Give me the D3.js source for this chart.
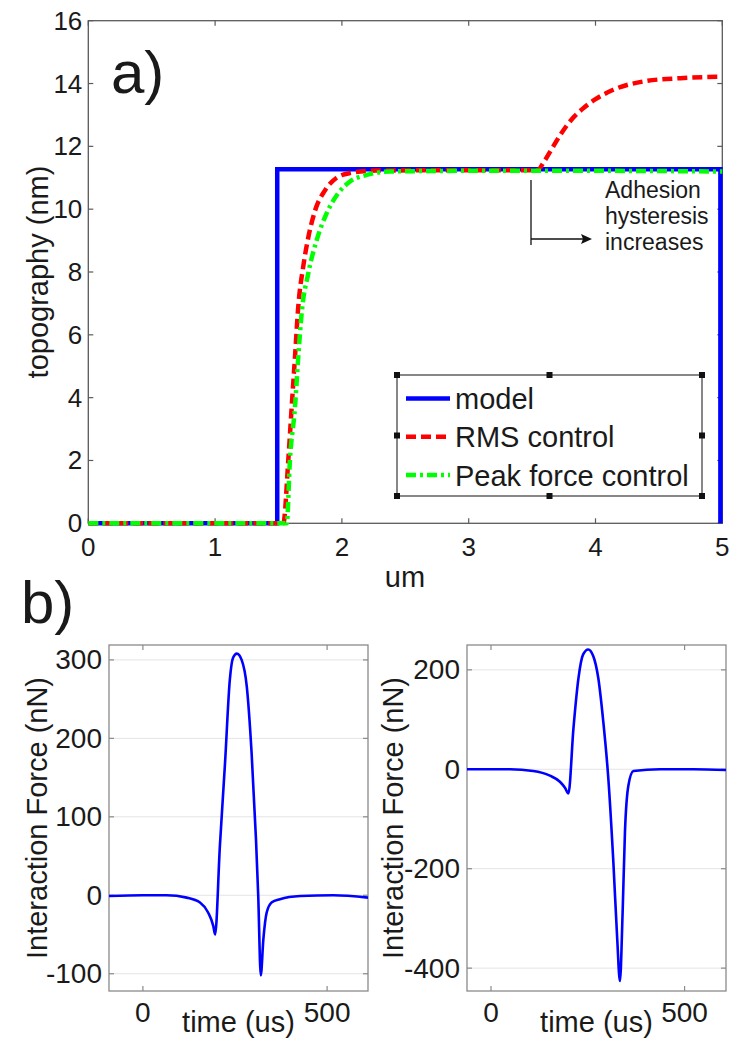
<!DOCTYPE html>
<html>
<head>
<meta charset="utf-8">
<script src="https://cdn.jsdelivr.net/npm/d3@7"></script>
<style>
  body { margin: 0; background: #fff; }
  svg { display: block; }
  text { font-family: "Liberation Sans", Arial, sans-serif; fill: #1a1a1a; }
</style>
</head>
<body>
<svg width="733" height="1040"></svg>
<script>
// ---- data ----
// a) topography profile
const topXTicks = [0, 1, 2, 3, 4, 5];
const topYTicks = [0, 2, 4, 6, 8, 10, 12, 14, 16];

const modelX = [0, 1.49, 1.49, 4.985, 4.985];
const modelY = [0, 0, 11.27, 11.27, 0];

const rmsX = [0, 1.5, 1.538, 1.577, 1.604, 1.63, 1.656, 1.696, 1.735, 1.788, 1.867, 1.959, 2.064, 2.27, 3.0, 3.54,
              3.6, 3.66, 3.72, 3.8, 3.9, 4.0, 4.14, 4.4, 4.67, 5.0];
const rmsY = [0, 0, 0, 2.0, 3.7, 5.3, 6.9, 8.2, 9.1, 9.95, 10.6, 11.0, 11.15, 11.23, 11.24, 11.24,
              11.55, 11.95, 12.35, 12.8, 13.2, 13.5, 13.8, 14.08, 14.17, 14.22];

const peakX = [0, 1.5, 1.565, 1.59, 1.63, 1.656, 1.683, 1.735, 1.80, 1.88, 1.97, 2.064, 2.196, 2.38, 3.0, 4.0, 5.0];
const peakY = [0, 0, 0, 2.0, 3.7, 5.3, 6.7, 7.96, 9.0, 9.87, 10.5, 10.88, 11.09, 11.2, 11.22, 11.22, 11.2];

const legendLabels = ['model', 'RMS control', 'Peak force control'];
const noteLines = ['Adhesion', 'hysteresis', 'increases'];

// b) interaction force curves
const forceXTicks = [0, 500];
const leftYTicks = [-100, 0, 100, 200, 300];
const rightYTicks = [-400, -200, 0, 200];

const leftT = [-92, 0, 64, 119, 155, 177, 191, 196, 209, 223, 236, 245, 255, 268, 282, 295, 307, 313,
               320, 327, 336, 350, 372, 427, 517, 611];
const leftF = [-1, 0, 0, -3, -9.3, -22, -39, -50, 63, 169, 275, 303, 308, 300, 266, 182, 71, 0,
               -102, -56, -22, -9, -5, -1, 0, -3];

const rightT = [-62, 49, 109, 152, 178, 191, 200, 213, 226, 238, 251, 264, 277, 290, 303, 316, 326,
                333, 340, 346, 355, 368, 437, 523, 607];
const rightF = [0, 0, -3.4, -12.8, -25, -37, -48.5, 83, 184, 231, 241, 228, 184, 96, -18, -186, -341,
                -426, -287, -126, -32, -3.4, 0, 0, -1.4];

// ---- drawing ----
const svg = d3.select('svg');
svg.append('rect').attr('width', 733).attr('height', 1040).attr('fill', '#fff');

// box with inward ticks on all four sides (matlab style)
function drawFrame(g, x, y, xTicks, yTicks, opt) {
  const [x0, x1] = x.range(), [y0, y1] = y.range();
  const tl = 5;
  if (opt.grid) {
    g.selectAll('.grid').data(yTicks).enter().append('line')
      .attr('x1', x0).attr('x2', x1)
      .attr('y1', d => y(d)).attr('y2', d => y(d))
      .attr('stroke', '#e4e4e4').attr('stroke-width', 1);
  }
  g.append('rect')
    .attr('x', x0).attr('y', y1).attr('width', x1 - x0).attr('height', y0 - y1)
    .attr('fill', 'none').attr('stroke', opt.frame).attr('stroke-width', 1.3);
  xTicks.forEach(t => {
    g.append('line').attr('x1', x(t)).attr('x2', x(t)).attr('y1', y0).attr('y2', y0 - tl)
      .attr('stroke', opt.frame).attr('stroke-width', 1.2);
    g.append('line').attr('x1', x(t)).attr('x2', x(t)).attr('y1', y1).attr('y2', y1 + tl)
      .attr('stroke', opt.frame).attr('stroke-width', 1.2);
  });
  yTicks.forEach(t => {
    g.append('line').attr('x1', x0).attr('x2', x0 + tl).attr('y1', y(t)).attr('y2', y(t))
      .attr('stroke', opt.frame).attr('stroke-width', 1.2);
    g.append('line').attr('x1', x1).attr('x2', x1 - tl).attr('y1', y(t)).attr('y2', y(t))
      .attr('stroke', opt.frame).attr('stroke-width', 1.2);
  });
  g.selectAll('.ylab').data(yTicks).enter().append('text')
    .attr('x', x0 - opt.ylabGap).attr('y', d => y(d))
    .attr('text-anchor', 'end').attr('dominant-baseline', 'central')
    .style('font-size', opt.fs + 'px')
    .text(d => d);
  g.selectAll('.xlab').data(xTicks).enter().append('text')
    .attr('x', d => x(d)).attr('y', opt.xlabY)
    .attr('text-anchor', 'middle')
    .style('font-size', opt.fs + 'px')
    .text(d => d);
}

function vlabel(g, text, cx, cy, fs) {
  g.append('text')
    .attr('transform', `translate(${cx},${cy}) rotate(-90)`)
    .attr('text-anchor', 'middle').attr('dominant-baseline', 'central')
    .style('font-size', fs + 'px')
    .text(text);
}

// ---------- panel a ----------
const ga = svg.append('g');
const xa = d3.scaleLinear().domain([0, 5]).range([88.3, 722.3]);
const ya = d3.scaleLinear().domain([0, 16]).range([523.3, 20.7]);

drawFrame(ga, xa, ya, topXTicks, topYTicks, { frame: '#5a5a5a', fs: 26, ylabGap: 6, xlabY: 556 });
vlabel(ga, 'topography (nm)', 38, 272, 29);
ga.append('text').attr('x', 405).attr('y', 587).attr('text-anchor', 'middle')
  .style('font-size', '29px').text('um');
ga.append('text').attr('x', 111).attr('y', 93).style('font-size', '60px').text('a)');

const lineLin = d3.line().x(d => xa(d[0])).y(d => ya(d[1]));
const lineSmooth = d3.line().x(d => xa(d[0])).y(d => ya(d[1])).curve(d3.curveMonotoneX);

const series = [
  { name: legendLabels[0], pts: d3.zip(modelX, modelY), color: '#0000ff', dash: null, gen: lineLin },
  { name: legendLabels[1], pts: d3.zip(rmsX, rmsY), color: '#ff0000', dash: '10,5', gen: lineSmooth },
  { name: legendLabels[2], pts: d3.zip(peakX, peakY), color: '#00ff00', dash: '10,4,3,4', gen: lineSmooth }
];

series.forEach(s => {
  ga.append('path')
    .attr('d', s.gen(s.pts))
    .attr('fill', 'none')
    .attr('stroke', s.color)
    .attr('stroke-width', 4.5)
    .attr('stroke-dasharray', s.dash)
    .attr('stroke-linejoin', 'miter');
});

// annotation
ga.append('line').attr('x1', 531).attr('x2', 531).attr('y1', 180).attr('y2', 245)
  .attr('stroke', '#111').attr('stroke-width', 1.3);
ga.append('line').attr('x1', 531).attr('x2', 584).attr('y1', 239).attr('y2', 239)
  .attr('stroke', '#111').attr('stroke-width', 1.3);
ga.append('path').attr('d', 'M592,239 L581,234 L583,239 L581,244 Z').attr('fill', '#111');
ga.selectAll('.note').data(noteLines).enter().append('text')
  .attr('x', 605).attr('y', (d, i) => 198 + i * 26)
  .style('font-size', '23px')
  .text(d => d);

// legend
const lg = ga.append('g');
const lx0 = 397, lx1 = 702, ly0 = 375, ly1 = 496;
lg.append('rect').attr('x', lx0).attr('y', ly0).attr('width', lx1 - lx0).attr('height', ly1 - ly0)
  .attr('fill', '#fff').attr('stroke', '#555').attr('stroke-width', 1.4);
const handles = [];
[lx0, (lx0 + lx1) / 2, lx1].forEach(hx => [ly0, (ly0 + ly1) / 2, ly1].forEach(hy => {
  if (!(hx === (lx0 + lx1) / 2 && hy === (ly0 + ly1) / 2)) handles.push([hx, hy]);
}));
lg.selectAll('.handle').data(handles).enter().append('rect')
  .attr('x', d => d[0] - 3).attr('y', d => d[1] - 3).attr('width', 6).attr('height', 6)
  .attr('fill', '#111');
series.forEach((s, i) => {
  const yy = 398.5 + i * 38.3;
  lg.append('line').attr('x1', 406).attr('x2', 450).attr('y1', yy).attr('y2', yy)
    .attr('stroke', s.color).attr('stroke-width', 4.5).attr('stroke-dasharray', s.dash);
  lg.append('text').attr('x', 455).attr('y', yy + 10.5)
    .style('font-size', '29px').text(s.name);
});

// ---------- panel b ----------
svg.append('text').attr('x', 21).attr('y', 623).style('font-size', '60px').text('b)');

function forcePanel(x, y, yTicks, t, f, labelX) {
  const g = svg.append('g');
  drawFrame(g, x, y, forceXTicks, yTicks, { frame: '#8a8a8a', fs: 28, ylabGap: 7, xlabY: 1022, grid: true });
  const cx = (x.range()[0] + x.range()[1]) / 2;
  g.append('text').attr('x', cx).attr('y', 1032).attr('text-anchor', 'middle')
    .style('font-size', '29px').text('time (us)');
  vlabel(g, 'Interaction Force (nN)', labelX, 818, 29);
  const line = d3.line().x(d => x(d[0])).y(d => y(d[1])).curve(d3.curveMonotoneX);
  g.append('path').attr('d', line(d3.zip(t, f)))
    .attr('fill', 'none').attr('stroke', '#0000ff').attr('stroke-width', 2.6);
}

const xl = d3.scaleLinear().domain([-92, 611]).range([109, 368]);
const yl = d3.scaleLinear().domain([-122, 319]).range([991, 645]);
forcePanel(xl, yl, leftYTicks, leftT, leftF, 37);

const xr = d3.scaleLinear().domain([-62, 607]).range([467, 726]);
const yr = d3.scaleLinear().domain([-446, 250]).range([991, 645]);
forcePanel(xr, yr, rightYTicks, rightT, rightF, 393);
</script>
</body>
</html>
